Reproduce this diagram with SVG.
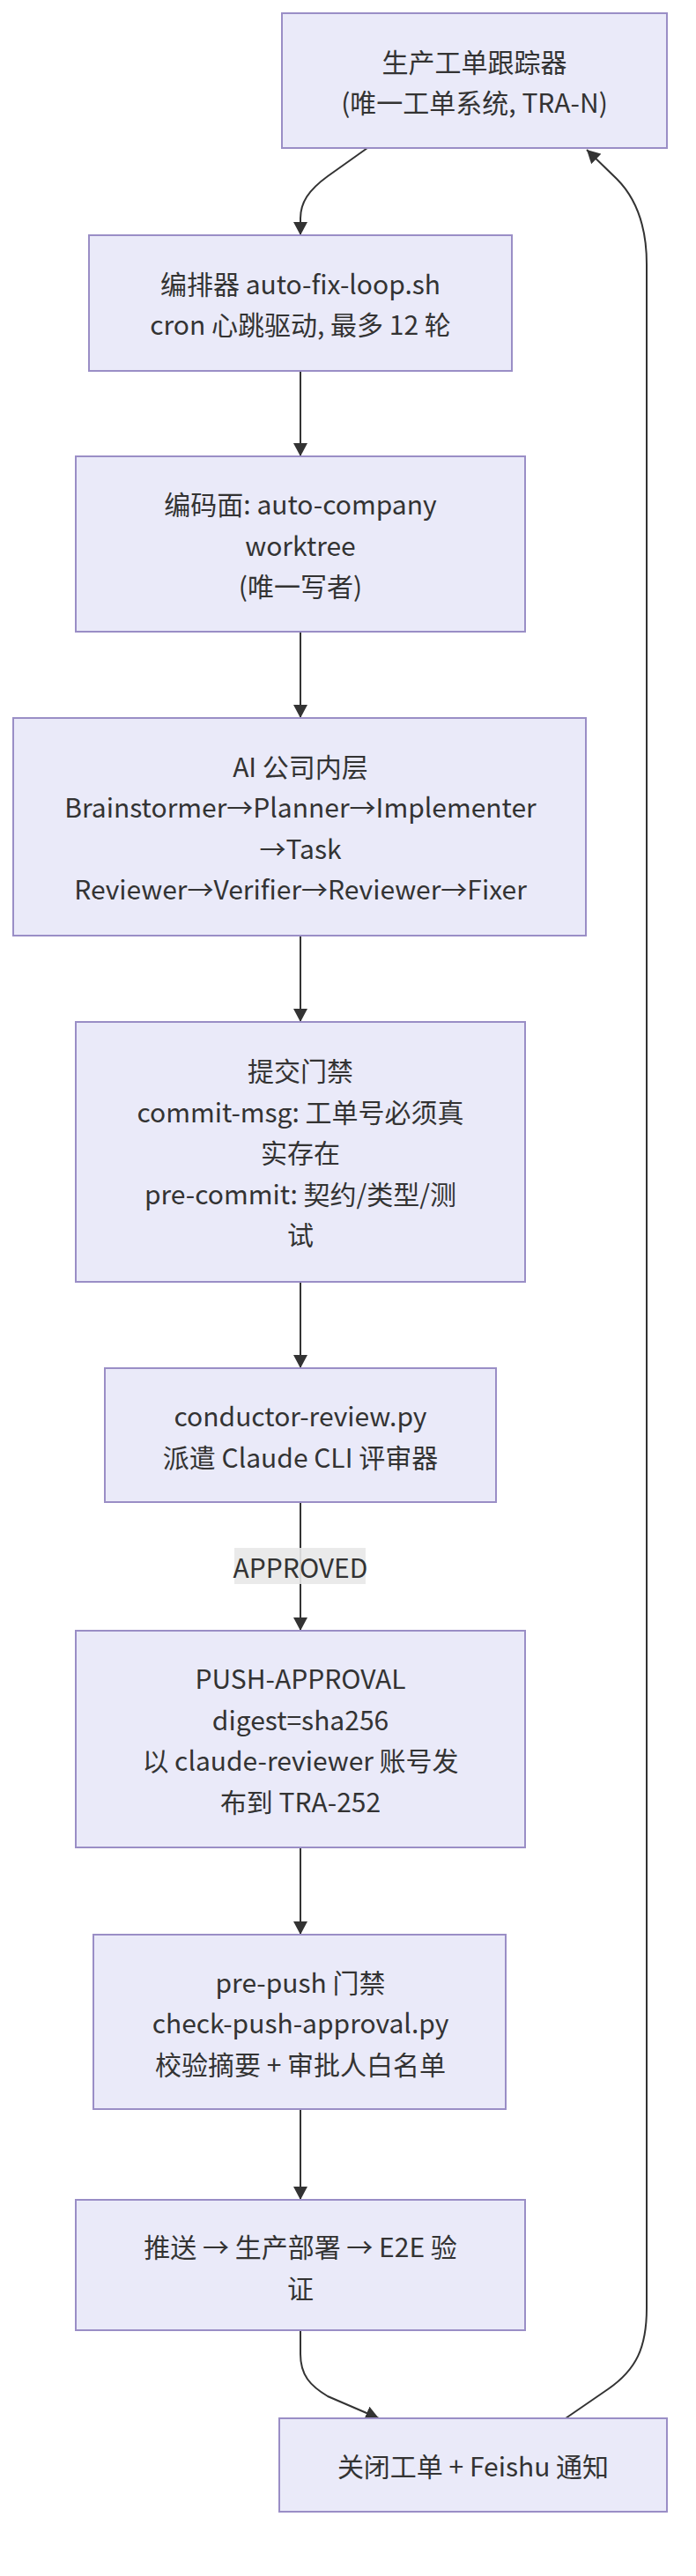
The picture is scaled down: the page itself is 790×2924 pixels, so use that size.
<svg xmlns="http://www.w3.org/2000/svg" width="790" height="2924" viewBox="0 0 790 2924">
<style>
.node rect{fill:#eaeaf9;stroke:#9a8ec6;stroke-width:2}
.node text, .lbl text{font-family:"Noto Sans CJK SC","Noto Sans",sans-serif;font-size:30px;fill:#333;text-anchor:middle;dominant-baseline:central}
.edge{fill:none;stroke:#333;stroke-width:2}
</style>
<defs>
<marker id="arr" markerUnits="userSpaceOnUse" markerWidth="16" markerHeight="16" refX="15" refY="8" orient="auto">
<path d="M0,0 L15,8 L0,16 z" fill="#333"/>
</marker>
</defs>
<rect width="790" height="2924" fill="#ffffff"/>
<g id="connectors">
<path class="edge" d="M417,168 L372,200 C350,216 341,230 341,248 L341,267" marker-end="url(#arr)"/>
<path class="edge" d="M341,421 L341,518" marker-end="url(#arr)"/>
<path class="edge" d="M341,717 L341,815" marker-end="url(#arr)"/>
<path class="edge" d="M341,1062 L341,1160" marker-end="url(#arr)"/>
<path class="edge" d="M341,1455 L341,1553" marker-end="url(#arr)"/>
<path class="edge" d="M341,1705 L341,1851" marker-end="url(#arr)"/>
<path class="edge" d="M341,2097 L341,2196" marker-end="url(#arr)"/>
<path class="edge" d="M341,2394 L341,2497" marker-end="url(#arr)"/>
<path class="edge" d="M341,2645 L341,2672 C341,2696 352,2708 372,2720 L430,2745" marker-end="url(#arr)"/>
<path class="edge" d="M642,2745 L690,2712 C722,2690 734,2665 734,2620 L734,300 C734,255 722,225 700,203 L666,170" marker-end="url(#arr)"/>
<g class="lbl" id="label-approved">
<rect x="266" y="1757" width="149" height="41" fill="#e8e8e8" opacity="0.9"/>
<text x="341" y="1778">APPROVED</text>
</g>
</g>
<g id="nodeA" class="node">
<rect x="320" y="15" width="437" height="153"/>
<text x="538.5" y="68.5">生产工单跟踪器</text>
<text x="538.5" y="115">(唯一工单系统, TRA-N)</text>
</g>
<g id="nodeB" class="node">
<rect x="101" y="267" width="480" height="154"/>
<text x="341" y="320.5">编排器 auto-fix-loop.sh</text>
<text x="341" y="367">cron 心跳驱动, 最多 12 轮</text>
</g>
<g id="nodeC" class="node">
<rect x="86" y="518" width="510" height="199"/>
<text x="341" y="571">编码面: auto-company</text>
<text x="341" y="617.5">worktree</text>
<text x="341" y="664">(唯一写者)</text>
</g>
<g id="nodeD" class="node">
<rect x="15" y="815" width="650" height="247"/>
<text x="341" y="868.5">AI 公司内层</text>
<text x="341" y="915">Brainstormer→Planner→Implementer</text>
<text x="341" y="961.5">→Task</text>
<text x="341" y="1008">Reviewer→Verifier→Reviewer→Fixer</text>
</g>
<g id="nodeE" class="node">
<rect x="86" y="1160" width="510" height="295"/>
<text x="341" y="1214">提交门禁</text>
<text x="341" y="1260.5">commit-msg: 工单号必须真</text>
<text x="341" y="1307">实存在</text>
<text x="341" y="1353.5">pre-commit: 契约/类型/测</text>
<text x="341" y="1400">试</text>
</g>
<g id="nodeF" class="node">
<rect x="119" y="1553" width="444" height="152"/>
<text x="341" y="1606">conductor-review.py</text>
<text x="341" y="1652.5">派遣 Claude CLI 评审器</text>
</g>
<g id="nodeG" class="node">
<rect x="86" y="1851" width="510" height="246"/>
<text x="341" y="1904">PUSH-APPROVAL</text>
<text x="341" y="1950.5">digest=sha256</text>
<text x="341" y="1997">以 claude-reviewer 账号发</text>
<text x="341" y="2043.5">布到 TRA-252</text>
</g>
<g id="nodeH" class="node">
<rect x="106" y="2196" width="468" height="198"/>
<text x="341" y="2248.5">pre-push 门禁</text>
<text x="341" y="2295">check-push-approval.py</text>
<text x="341" y="2341.5">校验摘要 + 审批人白名单</text>
</g>
<g id="nodeI" class="node">
<rect x="86" y="2497" width="510" height="148"/>
<text x="341" y="2549">推送 → 生产部署 → E2E 验</text>
<text x="341" y="2595.5">证</text>
</g>
<g id="nodeJ" class="node">
<rect x="317" y="2745" width="440" height="106"/>
<text x="537" y="2798">关闭工单 + Feishu 通知</text>
</g>
</svg>
